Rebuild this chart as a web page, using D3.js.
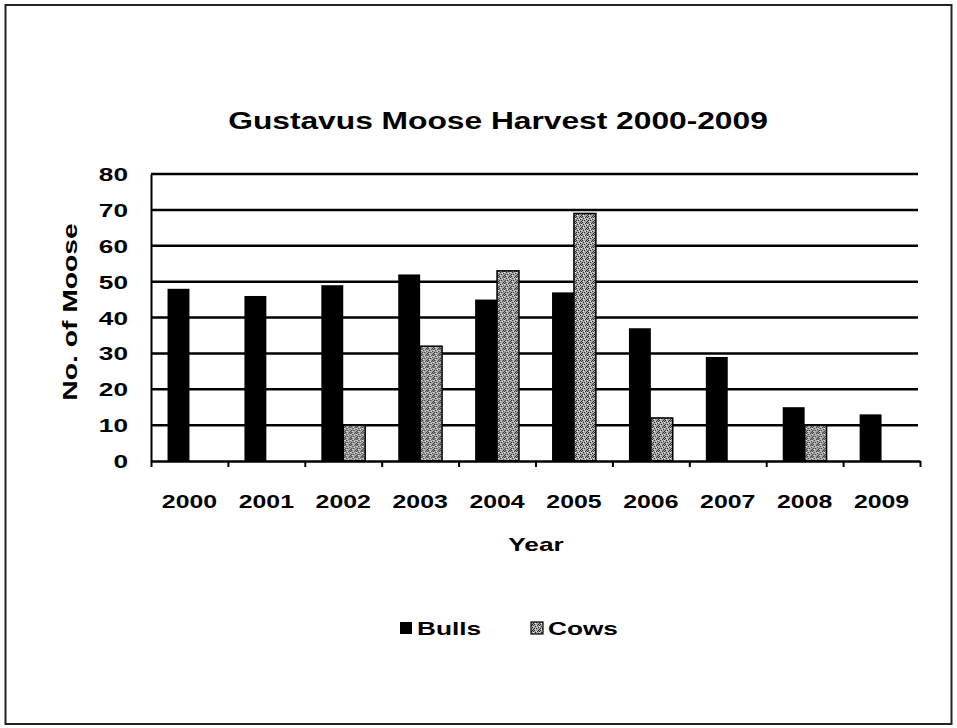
<!DOCTYPE html>
<html>
  <head>
    <script src="https://cdn.jsdelivr.net/npm/d3@7"></script>
    <style>
      body { margin: 0; background: #fff; }
      text { font-family: "Liberation Sans", Arial, sans-serif; font-weight: bold; fill: #000; }
    </style>
  </head>
  <body>
    <svg id="moose" width="957" height="728"></svg>
    <script>
    var years = ["2000","2001","2002","2003","2004","2005","2006","2007","2008","2009"];
    var bulls = [48, 46, 49, 52, 45, 47, 37, 29, 15, 13];
    var cows  = [ 0,  0, 10, 32, 53, 69, 12,  0, 10,  0];
    var series = ["Bulls", "Cows"];
    var yTicks = [0, 10, 20, 30, 40, 50, 60, 70, 80];

    // the scanned original has its lettering stretched sideways
    var stretch = 1.38;

    var svg = d3.select("#moose");

    // cows texture: grey with dark speckle
    var pat = svg.append("defs").append("pattern")
      .attr("id", "speckle")
      .attr("patternUnits", "userSpaceOnUse")
      .attr("width", 6).attr("height", 6);
    pat.append("rect").attr("width", 6).attr("height", 6).attr("fill", "#a6a6a6");
    [[0,0],[3,1],[1,2],[4,3],[2,4],[5,5],[0,4],[4,0],[5,1]].forEach(function(p){
      pat.append("rect").attr("x", p[0]).attr("y", p[1]).attr("width", 1).attr("height", 1).attr("fill", "#2a2a2a");
    });
    [[2,1],[5,2],[1,5],[3,3]].forEach(function(p){
      pat.append("rect").attr("x", p[0]).attr("y", p[1]).attr("width", 1).attr("height", 1).attr("fill", "#eee");
    });

    svg.append("rect")
      .attr("x", 5.5).attr("y", 5).attr("width", 946).attr("height", 719)
      .attr("fill", "none").attr("stroke", "#222").attr("stroke-width", 2);

    var plotLeft = 151, plotRight = 920, plotTop = 174, plotBottom = 461;

    var y = d3.scaleLinear().domain([0, 80]).range([plotBottom, plotTop]);
    var x0 = d3.scaleBand().domain(years).range([plotLeft, plotRight])
      .paddingInner(0.43).paddingOuter(0.215);
    var x1 = d3.scaleBand().domain(series).range([0, x0.bandwidth()]);
    var xEdge = d3.scaleLinear().domain([0, years.length]).range([plotLeft, plotRight]);

    function label(str, x, yy, size, anchor, angle){
      return svg.append("g")
        .attr("transform", "translate(" + x + "," + yy + ") rotate(" + (angle || 0) + ") scale(" + stretch + ",1)")
        .append("text")
        .attr("text-anchor", anchor || "middle")
        .style("font-size", size + "px")
        .text(str);
    }

    // gridlines
    svg.append("g").selectAll("line")
      .data(yTicks.slice(1))
      .enter().append("line")
      .attr("x1", plotLeft).attr("x2", plotRight - 2)
      .attr("y1", function(d){ return y(d); })
      .attr("y2", function(d){ return y(d); })
      .attr("stroke", "#000").attr("stroke-width", 2.5);

    // y axis
    var yAxis = svg.append("g")
      .attr("transform", "translate(" + plotLeft + ",0)")
      .call(d3.axisLeft(y).tickValues(yTicks).tickSize(0).tickFormat(""));
    yAxis.select(".domain").attr("stroke", "#000").attr("stroke-width", 2);

    yTicks.forEach(function(t){
      label(t, plotLeft - 23, y(t) + 7, 19, "end");
    });

    // bars
    var groups = svg.append("g").selectAll("g")
      .data(years)
      .enter().append("g")
      .attr("transform", function(d){ return "translate(" + x0(d) + ",0)"; });

    groups.selectAll("rect")
      .data(function(d, i){
        return [{key: "Bulls", value: bulls[i]}, {key: "Cows", value: cows[i]}]
          .filter(function(e){ return e.value > 0; });
      })
      .enter().append("rect")
      .attr("x", function(d){ return x1(d.key); })
      .attr("width", x1.bandwidth())
      .attr("y", function(d){ return y(d.value); })
      .attr("height", function(d){ return y(0) - y(d.value); })
      .attr("fill", function(d){ return d.key === "Bulls" ? "#000" : "url(#speckle)"; })
      .attr("stroke", "#000")
      .attr("stroke-width", function(d){ return d.key === "Bulls" ? 0 : 1.5; });

    // x axis with ticks between categories
    var xAxis = svg.append("g")
      .attr("transform", "translate(0," + plotBottom + ")")
      .call(d3.axisBottom(xEdge).ticks(years.length).tickSizeInner(6).tickSizeOuter(0).tickFormat(""));
    xAxis.select(".domain").attr("stroke", "#000").attr("stroke-width", 2.5);
    xAxis.selectAll(".tick line").attr("stroke", "#000").attr("stroke-width", 2);

    years.forEach(function(yr){
      label(yr, x0(yr) + x0.bandwidth() / 2, 508, 18, "middle");
    });

    // titles
    label("Gustavus Moose Harvest 2000-2009", 498, 129, 23, "middle");
    label("Year", 536, 551, 19, "middle");
    label("No. of Moose", 77, 312, 20.5, "middle", -90);

    // legend
    var legend = [{key: "Bulls", x: 400}, {key: "Cows", x: 531}];
    legend.forEach(function(l){
      svg.append("rect")
        .attr("x", l.x).attr("y", 622).attr("width", 12).attr("height", 12)
        .attr("fill", l.key === "Bulls" ? "#000" : "url(#speckle)")
        .attr("stroke", "#000").attr("stroke-width", l.key === "Bulls" ? 0 : 1.2);
      label(l.key, l.x + 17, 635, 19, "start");
    });
    </script>
  </body>
</html>
